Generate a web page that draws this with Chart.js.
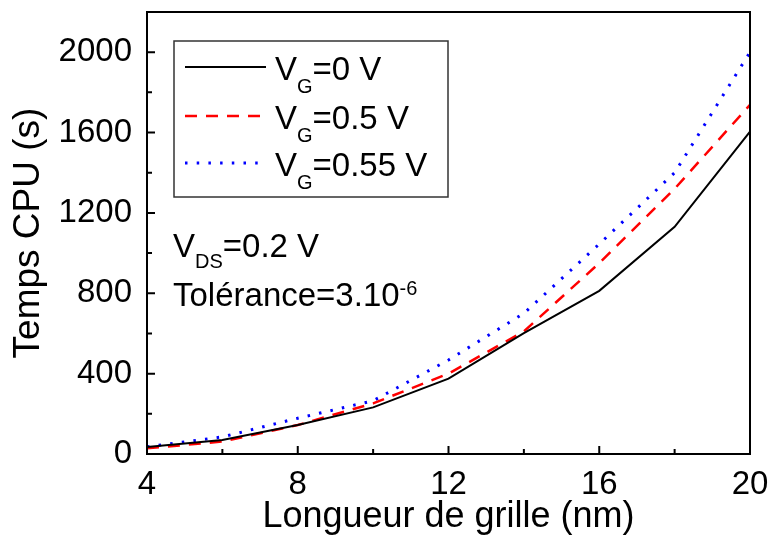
<!DOCTYPE html>
<html>
<head>
<meta charset="utf-8">
<script src="https://cdn.jsdelivr.net/npm/chart.js@4.4.0/dist/chart.umd.min.js"></script>
<style>
  html, body { margin: 0; padding: 0; background: #fff; }
  #wrap { width: 771px; height: 540px; position: relative; }
</style>
</head>
<body>
<div id="wrap"><canvas id="chart"></canvas></div>
<script>
// gate length (nm)
const lengths = [4, 6, 8, 10, 12, 14, 16, 18, 20];
// CPU time (s) for each gate voltage
const cpuVg0 = [35, 70, 144, 232, 375, 602, 812, 1131, 1605];
const cpuVg05 = [28, 62, 144, 252, 400, 610, 950, 1320, 1738];
const cpuVg055 = [36, 85, 178, 265, 468, 700, 1045, 1400, 2000];
const seriesNames = ['0 V', '0.5 V', '0.55 V'];
const xLabelTicks = [4, 8, 12, 16, 20];
const yLabelTicks = [0, 400, 800, 1200, 1600, 2000];

const FONT = "'Liberation Sans', Arial, sans-serif";
Chart.defaults.font.family = FONT;
Chart.defaults.color = '#000';

const toPoints = ys => lengths.map((x, i) => ({ x: x, y: ys[i] }));

// text with sub/superscripts: parts = [[text, size, dy], ...]
function richText(ctx, parts, x, y) {
    ctx.textAlign = 'left';
    ctx.textBaseline = 'alphabetic';
    ctx.fillStyle = '#000';
    parts.forEach(p => {
        ctx.font = p[1] + 'px ' + FONT;
        ctx.fillText(p[0], x, y + (p[2] || 0));
        x += ctx.measureText(p[0]).width;
    });
}

const framePlugin = {
    id: 'frame',
    afterDraw(chart) {
        const ctx = chart.ctx;
        const a = chart.chartArea;
        const xs = chart.scales.x;
        const ys = chart.scales.y;
        ctx.save();
        ctx.strokeStyle = '#000';
        ctx.lineWidth = 2;

        // inward ticks on bottom and left axes
        ctx.beginPath();
        xs.ticks.forEach(t => {
            const px = xs.getPixelForValue(t.value);
            const len = xLabelTicks.includes(t.value) ? 8 : 5;
            ctx.moveTo(px, a.bottom);
            ctx.lineTo(px, a.bottom - len);
        });
        ys.ticks.forEach(t => {
            const py = ys.getPixelForValue(t.value);
            const len = yLabelTicks.includes(t.value) ? 8 : 5;
            ctx.moveTo(a.left, py);
            ctx.lineTo(a.left + len, py);
        });
        ctx.stroke();

        ctx.strokeRect(a.left, a.top, a.right - a.left, a.bottom - a.top);

        // legend box
        ctx.lineWidth = 1.5;
        ctx.strokeStyle = '#333';
        ctx.strokeRect(174, 41, 274, 156);
        const rows = [67, 116, 163];
        chart.data.datasets.forEach((ds, i) => {
            ctx.beginPath();
            ctx.strokeStyle = ds.borderColor;
            ctx.lineWidth = ds.borderWidth;
            ctx.setLineDash(ds.borderDash || []);
            ctx.moveTo(185, rows[i]);
            ctx.lineTo(266, rows[i]);
            ctx.stroke();
            ctx.setLineDash([]);
            richText(ctx, [['V', 33], ['G', 20, 13], ['=' + seriesNames[i], 33]], 275, rows[i] + 13);
        });

        // annotation
        richText(ctx, [['V', 33], ['DS', 20, 11], ['=0.2 V', 33]], 173, 257);
        richText(ctx, [['Tolérance=3.10', 33], ['-6', 20, -11]], 173, 306);
        ctx.restore();
    }
};

new Chart(document.getElementById('chart'), {
    type: 'line',
    data: {
        datasets: [
            { label: 'VG=' + seriesNames[0], data: toPoints(cpuVg0), borderColor: '#000000', borderWidth: 2, borderDash: [] },
            { label: 'VG=' + seriesNames[1], data: toPoints(cpuVg05), borderColor: '#ff0000', borderWidth: 2.5, borderDash: [12, 9] },
            { label: 'VG=' + seriesNames[2], data: toPoints(cpuVg055), borderColor: '#0000ff', borderWidth: 3, borderDash: [2.5, 9.2] }
        ]
    },
    options: {
        responsive: true,
        maintainAspectRatio: false,
        animation: false,
        layout: { padding: { top: 12, right: 21, left: 0, bottom: 0 } },
        elements: { point: { radius: 0 }, line: { tension: 0 } },
        plugins: { legend: { display: false }, tooltip: { enabled: false } },
        scales: {
            x: {
                type: 'linear',
                min: 4,
                max: 20,
                grid: { display: false, drawTicks: false },
                border: { display: false },
                ticks: {
                    stepSize: 2,
                    autoSkip: false,
                    maxRotation: 0,
                    padding: 11,
                    font: { size: 33 },
                    callback: v => xLabelTicks.includes(v) ? String(v) : ''
                },
                title: {
                    display: true,
                    text: 'Longueur de grille (nm)',
                    font: { size: 36 },
                    padding: { top: 0, bottom: 1 }
                },
                afterFit: s => { s.height = 86; s.paddingLeft = 0; s.paddingRight = 0; }
            },
            y: {
                type: 'linear',
                min: 0,
                max: 2200,
                grid: { display: false, drawTicks: false },
                border: { display: false },
                ticks: {
                    stepSize: 200,
                    autoSkip: false,
                    padding: 15,
                    font: { size: 33 },
                    callback: v => yLabelTicks.includes(v) ? String(v) : ''
                },
                title: {
                    display: true,
                    text: 'Temps CPU (s)',
                    font: { size: 37 },
                    padding: { top: 7, bottom: 0 }
                },
                afterFit: s => { s.width = 147; s.paddingTop = 0; s.paddingBottom = 0; }
            }
        }
    },
    plugins: [framePlugin]
});
</script>
</body>
</html>
